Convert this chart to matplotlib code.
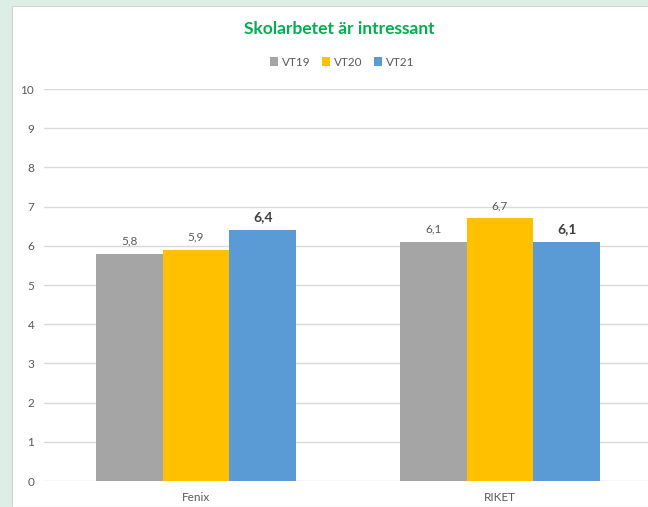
import matplotlib.pyplot as plt
from matplotlib.patches import Rectangle, Patch

# Data
categories = ['Fenix', 'RIKET']
series_names = ['VT19', 'VT20', 'VT21']
vt19 = [5.8, 6.1]
vt20 = [5.9, 6.7]
vt21 = [6.4, 6.1]
colors = ['#A5A5A5', '#FFC000', '#5B9BD5']

plt.rcParams['font.family'] = ['Lato', 'DejaVu Sans']

fig = plt.figure(figsize=(6.48, 5.07), dpi=100)
fig.patch.set_facecolor('#DDEEE6')

# white chart panel
fig.add_artist(Rectangle((12 / 648, 0), 1, 1 - 6 / 507, transform=fig.transFigure,
                         facecolor='white', edgecolor='#D0D8D4', linewidth=0.8, zorder=0))

ax = fig.add_axes([44 / 648, 26 / 507, 608 / 648, 392 / 507])
ax.set_facecolor('none')

width = 0.22
x = range(len(categories))
for i, (vals, name, c) in enumerate(zip([vt19, vt20, vt21], series_names, colors)):
    pos = [xi + (i - 1) * width for xi in x]
    ax.bar(pos, vals, width=width, color=c, zorder=3, label=name)
    for p, v in zip(pos, vals):
        label = f'{v:.1f}'.replace('.', ',')
        if name == 'VT21':
            ax.text(p, v + 0.18, label, ha='center', va='bottom', fontsize=10,
                    fontweight='bold', color='#404040')
        else:
            ax.text(p, v + 0.18, label, ha='center', va='bottom', fontsize=8.5,
                    color='#595959')

ax.set_xlim(-0.5, 1.5)
ax.set_ylim(0, 10)
ax.set_yticks(range(0, 11))
ax.set_xticks(list(x))
ax.set_xticklabels(categories)
ax.tick_params(axis='both', length=0, labelsize=8.5, labelcolor='#595959')
ax.tick_params(axis='y', pad=7)
ax.tick_params(axis='x', pad=8)
ax.grid(axis='y', color='#D9D9D9', linewidth=1, zorder=0)
for s in ax.spines.values():
    s.set_visible(False)

fig.text(0.523, 1 - 29 / 507, 'Skolarbetet är intressant', ha='center', va='center',
         fontsize=12.5, fontweight='bold', color='#00B050')

handles = [Patch(facecolor=c, label=n) for c, n in zip(colors, series_names)]
fig.legend(handles=handles, loc='center', bbox_to_anchor=(0.528, 1 - 62 / 507), ncol=3,
           frameon=False, fontsize=8.5, handlelength=0.7, handleheight=0.7,
           handletextpad=0.3, columnspacing=1.0, labelcolor='#595959')

fig.savefig('out.png', dpi=100, facecolor=fig.get_facecolor())
